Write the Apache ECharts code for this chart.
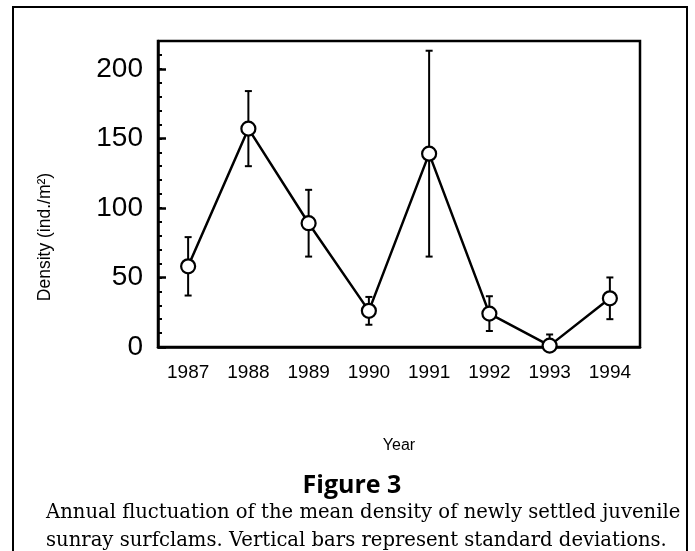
<!DOCTYPE html>
<html>
<head>
<meta charset="utf-8">
<script src="https://cdn.jsdelivr.net/npm/echarts@6/dist/echarts.min.js"></script>
<style>
  html, body { margin: 0; padding: 0; background: #fff; }
  #chart { width: 695px; height: 551px; }
</style>
</head>
<body>
<div id="chart"></div>
<script>
// Data
var years = ['1987', '1988', '1989', '1990', '1991', '1992', '1993', '1994'];
var meanDensity = [58, 157, 89, 26, 139, 24, 1, 35];
var stdDev = [21, 27, 24, 10, 74, 12.5, 8, 15];
var yTickMax = 220;

var errorData = years.map(function (y, i) {
  return [i, meanDensity[i] - stdDev[i], meanDensity[i] + stdDev[i]];
});

var chart = echarts.init(document.getElementById('chart'), null, { renderer: 'canvas' });

var option = {
  backgroundColor: '#ffffff',
  animation: false,
  grid: {
    left: 158, right: 55, top: 41, bottom: 204,
    show: true, borderColor: '#000', borderWidth: 2.5, backgroundColor: 'transparent'
  },
  xAxis: {
    type: 'category',
    data: years,
    boundaryGap: true,
    axisLine: { lineStyle: { color: '#000', width: 2.5 } },
    axisTick: { alignWithLabel: true, inside: true, length: 9, lineStyle: { color: '#000', width: 2.5 } },
    axisLabel: { color: '#000', fontSize: 19, fontFamily: 'Liberation Sans', margin: 16 },
    splitLine: { show: false },
    name: 'Year',
    nameLocation: 'middle',
    nameGap: 91,
    nameTextStyle: { color: '#000', fontSize: 16, fontFamily: 'Liberation Sans' }
  },
  yAxis: [{
    type: 'value',
    min: 0, max: yTickMax, interval: 50,
    axisLine: { show: true, lineStyle: { color: '#000', width: 2.5 } },
    axisTick: { show: true, inside: true, length: 8, lineStyle: { color: '#000', width: 2.5 } },
    axisLabel: { color: '#000', fontSize: 28, fontFamily: 'Liberation Sans', margin: 15, showMaxLabel: false },
    splitLine: { show: false }
  }, {
    type: 'value',
    position: 'left',
    min: 0, max: yTickMax, interval: 10,
    axisLine: { show: false },
    axisTick: { show: true, inside: true, length: 4, lineStyle: { color: '#000', width: 2 } },
    axisLabel: { show: false },
    splitLine: { show: false }
  }],
  series: [{
    type: 'custom',
    z: 1,
    clip: true,
    data: errorData,
    renderItem: function (params, api) {
      var x = api.value(0);
      var lo = api.coord([x, api.value(1)]);
      var hi = api.coord([x, api.value(2)]);
      var cw = 3.5;
      var st = { stroke: '#000', lineWidth: 2 };
      return {
        type: 'group',
        children: [
          { type: 'line', shape: { x1: hi[0], y1: hi[1], x2: lo[0], y2: lo[1] }, style: st },
          { type: 'line', shape: { x1: hi[0] - cw, y1: hi[1], x2: hi[0] + cw, y2: hi[1] }, style: st },
          { type: 'line', shape: { x1: lo[0] - cw, y1: lo[1], x2: lo[0] + cw, y2: lo[1] }, style: st }
        ]
      };
    }
  }, {
    type: 'line',
    z: 3,
    data: meanDensity,
    symbol: 'circle',
    symbolSize: 14,
    showAllSymbol: true,
    lineStyle: { color: '#000', width: 2.5 },
    itemStyle: { color: '#fff', borderColor: '#000', borderWidth: 2.2 }
  }],
  graphic: [{
    type: 'polyline',
    shape: { points: [[13, 551], [13, 7], [687, 7], [687, 551]] },
    style: { stroke: '#000', lineWidth: 2, fill: null }
  }, {
    type: 'text',
    x: 45, y: 237,
    rotation: Math.PI / 2,
    style: {
      text: 'Density (ind./m²)', fill: '#000', font: '17.5px "Liberation Sans"',
      textAlign: 'center', textVerticalAlign: 'middle'
    }
  }, {
    type: 'text',
    x: 352, y: 486,
    style: {
      text: 'Figure 3', fill: '#000', font: 'bold 25px "Open Sans"',
      textAlign: 'center', textVerticalAlign: 'middle'
    }
  }, {
    type: 'text',
    x: 46, y: 513,
    style: {
      text: 'Annual fluctuation of the mean density of newly settled juvenile',
      fill: '#000', font: '19.6px "DejaVu Serif"', textAlign: 'left', textVerticalAlign: 'middle'
    }
  }, {
    type: 'text',
    x: 46, y: 541,
    style: {
      text: 'sunray surfclams. Vertical bars represent standard deviations.',
      fill: '#000', font: '19.6px "DejaVu Serif"', textAlign: 'left', textVerticalAlign: 'middle'
    }
  }]
};

chart.setOption(option);
</script>
</body>
</html>
